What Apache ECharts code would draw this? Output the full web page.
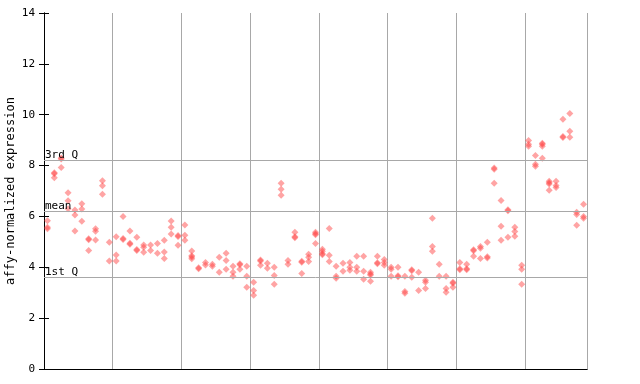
<!DOCTYPE html>
<html>
<head>
<meta charset="utf-8">
<script src="https://cdn.jsdelivr.net/npm/echarts@6/dist/echarts.min.js"></script>
<style>html,body{margin:0;padding:0;background:#fff}#c{width:640px;height:384px}</style>
</head>
<body>
<div id="c"></div>
<script>
// Replicate values per sample column, grouped by the 8 vertical sections
const group1 = [[5.83,5.57,5.52],[7.72,7.68,7.52],[8.30,8.26,7.92],[6.93,6.62,6.30],[6.25,6.06,5.43],[6.50,6.29,5.81],[5.12,5.08,4.66],[5.52,5.42,5.07],[7.40,7.21,6.87],[4.98,4.25]];
const group2 = [[5.20,4.48,4.25],[6.00,5.13,5.09],[5.43,4.95,4.91],[5.18,4.70,4.66],[4.88,4.79,4.59],[4.88,4.66],[4.94,4.55],[5.06,4.60,4.35],[5.82,5.57,5.31],[5.25,5.21,4.87]];
const group3 = [[5.66,5.26,5.06],[4.64,4.45,4.40,4.34],[3.98,3.94],[4.19,4.09],[4.12,4.04],[4.39,3.80],[4.55,4.27,3.92],[4.04,3.80,3.65],[4.14,4.10,3.92],[4.04,3.65,3.21]];
const group4 = [[3.41,3.09,2.90],[4.29,4.25,4.08],[4.16,3.96],[4.00,3.68,3.33],[7.30,7.07,6.83],[4.27,4.12],[5.38,5.20,5.16],[4.24,4.20,3.76],[4.51,4.39,4.23],[5.38,5.32,5.28,4.94]];
const group5 = [[4.71,4.63,4.53,4.49],[5.53,4.47,4.23],[4.04,3.65,3.57],[4.16,3.84],[4.19,4.00,3.88],[4.43,4.00,3.84],[4.43,3.84,3.53],[3.80,3.74,3.70,3.45],[4.43,4.18,4.14],[4.31,4.19,4.08]];
const group6 = [[4.00,3.92,3.65],[4.00,3.67,3.63],[3.65,3.05,2.98],[3.90,3.86,3.61],[3.80,3.09],[3.49,3.41,3.17],[5.93,4.82,4.63],[4.12,3.65],[3.65,3.17,3.02],[3.41,3.37,3.21]];
const group7 = [[4.19,3.94,3.90],[4.12,3.94,3.90],[4.69,4.65,4.43],[4.82,4.75,4.35],[4.98,4.41,4.37],[7.90,7.86,7.30],[6.63,5.61,5.06],[6.26,6.22,5.18],[5.57,5.41,5.22],[4.08,3.92,3.33]];
const group8 = [[8.99,8.84,8.76],[8.40,8.05,7.97],[8.88,8.84,8.76,8.29],[7.38,7.32,7.28,7.03],[7.38,7.22,7.14],[9.82,9.14,9.10],[10.05,9.35,9.11],[6.16,6.08,5.65],[6.48,6.00,5.93]];

const quartileNames = ['3rd Q', 'mean', '1st Q'];
const quartileValues = [8.19, 6.20, 3.61];
const yTicks = [0, 2, 4, 6, 8, 10, 12, 14];
const yAxisTitle = 'affy-normalized expression';

const columns = [].concat(group1, group2, group3, group4, group5, group6, group7, group8);
const points = [];
columns.forEach((vals, i) => vals.forEach(v => points.push([i + 0.5, v])));

const FONT = 'DejaVu Sans Mono';
const chart = echarts.init(document.getElementById('c'), null, {renderer: 'canvas'});
chart.setOption({
  animation: false,
  backgroundColor: '#fff',
  grid: {left: 44, right: 53, top: 13, bottom: 15, containLabel: false, outerBoundsMode: 'none'},
  xAxis: [{
    type: 'value', min: 0, max: columns.length, interval: 10,
    axisLine: {show: true, lineStyle: {color: '#000', width: 1}},
    axisTick: {show: false}, axisLabel: {show: false},
    splitLine: {show: true, lineStyle: {color: '#a8a8a8', width: 1}}
  }, {
    type: 'value', position: 'top', min: 0, max: columns.length,
    axisLine: {show: true, lineStyle: {color: '#000', width: 1}},
    axisTick: {show: false}, axisLabel: {show: false}, splitLine: {show: false}
  }],
  yAxis: [{
    type: 'value', min: yTicks[0], max: yTicks[yTicks.length - 1], interval: 2,
    name: yAxisTitle, nameLocation: 'middle', nameGap: 27, nameRotate: 90, nameMoveOverlap: false,
    nameTextStyle: {fontFamily: FONT, fontSize: 12, color: '#000'},
    axisLine: {show: true, lineStyle: {color: '#000', width: 1}},
    axisTick: {show: true, inside: true, length: 5, lineStyle: {color: '#000'}},
    axisLabel: {fontFamily: FONT, fontSize: 11, color: '#000', margin: 9},
    splitLine: {show: false}
  }, {
    type: 'value', position: 'right', min: yTicks[0], max: yTicks[yTicks.length - 1], interval: 2,
    axisLine: {show: true, lineStyle: {color: '#000', width: 1}},
    axisTick: {show: true, inside: true, length: 5, lineStyle: {color: '#000'}},
    axisLabel: {show: false}, splitLine: {show: false}
  }],
  series: [{
    type: 'scatter',
    xAxisIndex: 0, yAxisIndex: 0,
    symbol: 'diamond', symbolSize: 7,
    itemStyle: {color: 'rgba(255,70,70,0.62)', borderWidth: 0},
    data: points,
    silent: true,
    markLine: {
      silent: true, symbol: 'none', animation: false,
      lineStyle: {color: '#a8a8a8', type: 'solid', width: 1},
      label: {show: true, position: 'insideStartTop', distance: [1, 0], formatter: p => p.name,
        fontFamily: FONT, fontSize: 11, color: '#000'},
      emphasis: {disabled: true},
      data: quartileNames.map((n, k) => ({name: n, yAxis: quartileValues[k]}))
    }
  }]
});
</script>
</body>
</html>
